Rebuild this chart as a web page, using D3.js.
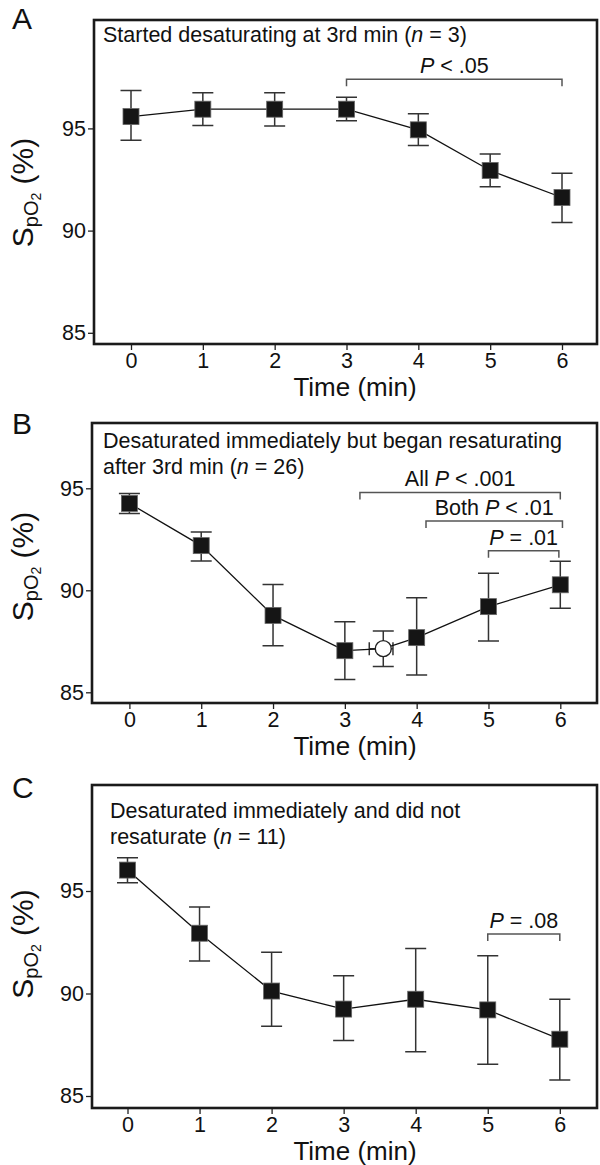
<html>
<head>
  <meta charset="utf-8">
  <title>SpO2 over time, three groups</title>
  <script src="https://d3js.org/d3.v7.min.js"></script>
  <style>
    body { margin: 0; background: #fff; }
    text { font-family: "Liberation Sans", Arial, sans-serif; fill: #111; }
  </style>
</head>
<body>
  <script>
    /* values: means and error-bar ends per minute */
    var minutes = [0, 1, 2, 3, 4, 5, 6];
    var yTicks = [85, 90, 95];

    var meanA = [95.58, 95.94, 95.94, 95.94, 94.93, 92.94, 91.62];
    var hiA   = [96.85, 96.75, 96.75, 96.53, 95.72, 93.75, 92.81];
    var loA   = [94.42, 95.14, 95.12, 95.38, 94.16, 92.15, 90.40];

    var meanB = [94.26, 92.19, 88.77, 87.04, 87.68, 89.20, 90.27];
    var hiB   = [94.75, 92.86, 90.29, 88.46, 89.64, 90.83, 91.42];
    var loB   = [93.77, 91.44, 87.28, 85.63, 85.85, 87.51, 89.12];
    // open circle in B (time of nadir) with error both ways
    var openB = {x: 3.535, xlo: 3.34, xhi: 3.67, mean: 87.14, lo: 86.26, hi: 88.0};

    var meanC = [96.02, 92.94, 90.12, 89.24, 89.72, 89.20, 87.77];
    var hiC   = [96.62, 94.22, 92.01, 90.87, 92.20, 91.84, 89.72];
    var loC   = [95.40, 91.59, 88.40, 87.71, 87.16, 86.55, 85.78];

    var titlesA = ["Started desaturating at 3rd min (*n* = 3)"];
    var titlesB = ["Desaturated immediately but began resaturating", "after 3rd min (*n* = 26)"];
    var titlesC = ["Desaturated immediately and did not", "resaturate (*n* = 11)"];

    var bracketsA = [{from: 3, to: 6, at: 97.4, label: "*P* < .05"}];
    var bracketsB = [
      {from: 3.21, to: 6.0, at: 94.8, label: "All *P* < .001"},
      {from: 4.13, to: 6.03, at: 93.4, label: "Both *P* < .01"},
      {from: 5.0, to: 5.98, at: 91.94, label: "*P* = .01"}
    ];
    var bracketsC = [{from: 5, to: 6, at: 92.9, label: "*P* = .08"}];

    /* page layout for each panel */
    var panels = [
      {letter: "A", mean: meanA, hi: hiA, lo: loA, titles: titlesA, brackets: bracketsA,
       left: 94, right: 597, top: 20, bottom: 344, x0: 131, x6: 562, y85: 332.8, y95: 128.4,
       letterY: 29, labelY: 192.5, titleX: 103, titleY: 42},
      {letter: "B", mean: meanB, hi: hiB, lo: loB, titles: titlesB, brackets: bracketsB, open: openB,
       left: 92, right: 597, top: 423, bottom: 703, x0: 129.4, x6: 560.3, y85: 692.3, y95: 488.3,
       letterY: 434, labelY: 566.5, titleX: 103, titleY: 448},
      {letter: "C", mean: meanC, hi: hiC, lo: loC, titles: titlesC, brackets: bracketsC,
       left: 92, right: 597, top: 785, bottom: 1108, x0: 127.5, x6: 559.8, y85: 1096, y95: 891,
       letterY: 798, labelY: 944, titleX: 110, titleY: 818}
    ];

    var w = 600, h = 1165;
    var svg = d3.select("body").append("svg").attr("width", w).attr("height", h);

    // writes "a *b* c" as tspans, starred parts italic
    function richText(sel, str) {
      str.split("*").forEach(function(part, i) {
        if (part === "") return;
        sel.append("tspan").text(part).attr("font-style", i % 2 ? "italic" : "normal");
      });
    }

    panels.forEach(function(p) {
      var x = d3.scaleLinear().domain([0, 6]).range([p.x0, p.x6]);
      var y = d3.scaleLinear().domain([85, 95]).range([p.y85, p.y95]);
      var g = svg.append("g");

      // axes (ticks only, the frame is drawn separately)
      var ax = g.append("g").attr("transform", "translate(" + p.left + ",0)")
        .call(d3.axisLeft(y).tickValues(yTicks).tickSize(6).tickPadding(2).tickFormat(d3.format("d")));
      var bx = g.append("g").attr("transform", "translate(0," + p.bottom + ")")
        .call(d3.axisBottom(x).tickValues(minutes).tickSize(6).tickPadding(3).tickFormat(d3.format("d")));
      [ax, bx].forEach(function(a) {
        a.select(".domain").remove();
        a.selectAll("line").attr("stroke", "#222").attr("stroke-width", 1.3);
        a.selectAll("text").attr("font-size", 21.5).attr("fill", "#111")
          .attr("font-family", "'Liberation Sans', Arial, sans-serif");
      });

      g.append("rect").attr("x", p.left).attr("y", p.top)
        .attr("width", p.right - p.left).attr("height", p.bottom - p.top)
        .attr("fill", "none").attr("stroke", "#1a1a1a").attr("stroke-width", 2.6);

      // panel letter, axis titles
      g.append("text").attr("x", 12).attr("y", p.letterY).attr("font-size", 30).text(p.letter);
      g.append("text").attr("x", 355).attr("y", p.bottom + 52).attr("text-anchor", "middle")
        .attr("font-size", 26).text("Time (min)");
      var yl = g.append("text").attr("text-anchor", "middle")
        .attr("transform", "translate(33," + p.labelY + ") rotate(-90)").attr("font-size", 30);
      yl.append("tspan").text("S");
      yl.append("tspan").text("pO").attr("font-size", 20).attr("dy", 5);
      yl.append("tspan").text("2").attr("font-size", 14).attr("dy", 3);
      yl.append("tspan").text(" (%)").attr("font-size", 30).attr("dy", -8);

      // title inside the box
      p.titles.forEach(function(line, i) {
        var t = g.append("text").attr("x", p.titleX).attr("y", p.titleY + i * 26).attr("font-size", 21.5);
        richText(t, line);
      });

      // significance brackets
      p.brackets.forEach(function(b) {
        var by = y(b.at);
        g.append("path")
          .attr("d", "M" + x(b.from) + "," + (by + 7) + "V" + by + "H" + x(b.to) + "V" + (by + 7))
          .attr("fill", "none").attr("stroke", "#555").attr("stroke-width", 1.5);
        var t = g.append("text").attr("x", (x(b.from) + x(b.to)) / 2).attr("y", by - 6)
          .attr("text-anchor", "middle").attr("font-size", 21.5);
        richText(t, b.label);
      });

      var pts = minutes.map(function(m, i) {
        return {x: m, mean: p.mean[i], hi: p.hi[i], lo: p.lo[i]};
      });
      var linePts = pts.slice();
      if (p.open) {
        linePts.push({x: p.open.x, mean: p.open.mean});
        linePts.sort(function(a, b) { return a.x - b.x; });
      }

      // error bars
      var eb = g.append("g").attr("stroke", "#333").attr("stroke-width", 1.5).attr("fill", "none");
      pts.forEach(function(d) {
        var cx = x(d.x);
        eb.append("path").attr("d",
          "M" + cx + "," + y(d.lo) + "V" + y(d.hi) +
          "M" + (cx - 10.5) + "," + y(d.hi) + "H" + (cx + 10.5) +
          "M" + (cx - 10.5) + "," + y(d.lo) + "H" + (cx + 10.5));
      });
      if (p.open) {
        var o = p.open, ox = x(o.x), oy = y(o.mean);
        eb.append("path").attr("d",
          "M" + ox + "," + y(o.lo) + "V" + y(o.hi) +
          "M" + (ox - 10.5) + "," + y(o.hi) + "H" + (ox + 10.5) +
          "M" + (ox - 10.5) + "," + y(o.lo) + "H" + (ox + 10.5) +
          "M" + x(o.xlo) + "," + oy + "H" + x(o.xhi) +
          "M" + x(o.xlo) + "," + (oy - 6.5) + "V" + (oy + 6.5) +
          "M" + x(o.xhi) + "," + (oy - 6.5) + "V" + (oy + 6.5));
      }

      g.append("path").datum(linePts)
        .attr("d", d3.line().x(function(d) { return x(d.x); }).y(function(d) { return y(d.mean); }))
        .attr("fill", "none").attr("stroke", "#111").attr("stroke-width", 1.3);

      g.selectAll("rect.mk").data(pts).enter().append("rect").attr("class", "mk")
        .attr("x", function(d) { return x(d.x) - 8; })
        .attr("y", function(d) { return y(d.mean) - 8; })
        .attr("width", 16).attr("height", 16)
        .attr("fill", "#151515").attr("stroke", "#666").attr("stroke-width", 0.8);

      if (p.open) {
        g.append("circle").attr("cx", x(p.open.x)).attr("cy", y(p.open.mean)).attr("r", 8)
          .attr("fill", "#fff").attr("stroke", "#222").attr("stroke-width", 1.4);
      }
    });
  </script>
</body>
</html>
